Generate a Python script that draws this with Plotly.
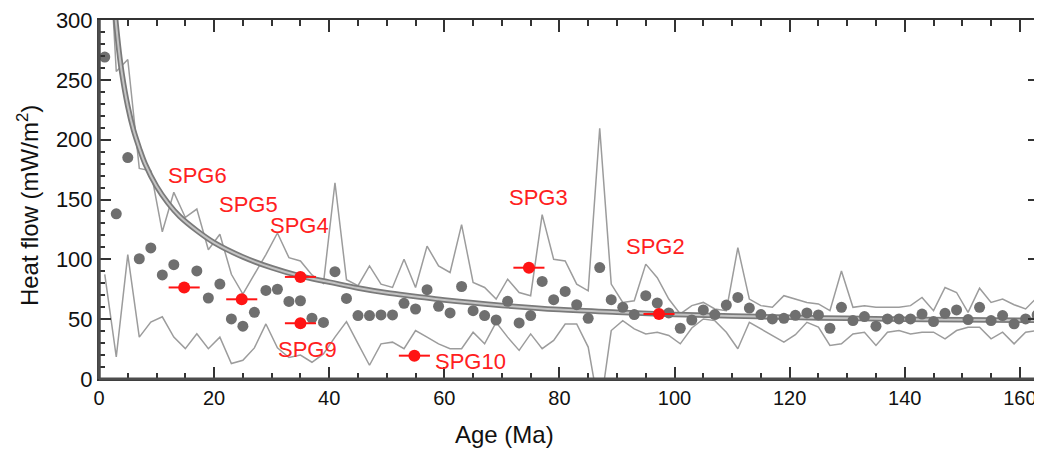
import plotly.graph_objects as go

# ---------------- data ----------------
bin_age = [1, 3, 5, 7, 9, 11, 13, 15, 17, 19,
           21, 23, 25, 27, 29, 31, 33, 35, 37, 39,
           41, 43, 45, 47, 49, 51, 53, 55, 57, 59,
           61, 63, 65, 67, 69, 71, 73, 75, 77, 79,
           81, 83, 85, 87, 89, 91, 93, 95, 97, 99,
           101, 103, 105, 107, 109, 111, 113, 115, 117, 119,
           121, 123, 125, 127, 129, 131, 133, 135, 137, 139,
           141, 143, 145, 147, 149, 151, 153, 155, 157, 159,
           161, 163]

mean_hf = [269, 138, 185, 100.5, 109.5, 87, 95.5, None, 90.3, 67.7,
           79.3, 50.2, 44.1, 55.7, 74, 75, 64.8, 65.4, 50.8, 47.3,
           89.7, 67.3, 53, 53, 53.5, 53.5, 63.2, 58.5, 74.6, 60.7,
           55.2, 77.3, 57.1, 53, 49.3, 64.9, 46.9, 53, 81.5, 66.3,
           73.2, 62.1, 50.7, 93.1, 66.3, 59.9, 53.8, 69.6, 63.5, 55.2,
           42.4, 49.3, 57.7, 53.8, 61.8, 68.2, 59.3, 53.8, 50.2, 50.7,
           53.2, 55.2, 53.5, 42.4, 59.9, 48.8, 52.2, 44.1, 50.2, 50.2,
           50.2, 54.3, 48, 54.9, 57.7, 49.7, 59.9, 48.8, 53, 46.1,
           50.2, 53.5]

upper_hf = [430, 257, 267, 176, 174, 123, 156, 135, 142, 108,
            121, 87.5, 71, 87, 104, 122, 101.4, 98.6, 87, 80,
            164, 83, 78, 94.5, 79.3, 76.5, 100, 76.5, 111, 94.5,
            89, 129, 80.7, 76.5, 66.8, 83.4, 72.3, 69.6, 137.4, 100,
            98.7, 79.3, 73.7, 209.5, 79.3, 64, 65.4, 96, 84.7, 66.8,
            54.4, 61.3, 64, 58.5, 57.1, 109.7, 66.8, 61.3, 59.9, 69.6,
            66.8, 64, 62.7, 57.1, 90.3, 59.9, 61.3, 59.9, 59.9, 59.9,
            61.3, 68.2, 57.1, 76.5, 72.3, 55.7, 75.9, 64, 66.8, 62.1,
            58.5, 68.2]

lower_hf = [87.5, 18.5, 104, 35, 47.5, 52, 35, 25.4, 37.8, 25.3,
            35, 12.9, 15.6, 26, 46, 26, 18, 20, 14, 21,
            35, 48, 29.5, 11.5, 29.4, 30.8, 25.3, 40.5, 35, 29.4,
            25.3, 25.3, 39.1, 29.4, 47.4, 35, 23.9, 37.7, 25.3, 32.2,
            46, 46, 26.7, -28, 40.5, 48.8, 41.9, 37.7, 39.1, 36.4,
            29.4, 42.6, 50.2, 48.8, 39.1, 25.3, 47.4, 41.9, 36.4, 30.8,
            37, 47.4, 43.3, 28.1, 29.4, 37.7, 39.1, 28.1, 39.1, 40.5,
            37.7, 39.1, 39.1, 33.6, 40.5, 43.3, 43.3, 33.6, 39.1, 29.4,
            39.1, 40.5]

model_age = [2.6, 2.8, 3.5, 4, 5, 6, 7, 8, 10, 12, 14, 17, 20, 25, 30, 35,
             40, 45, 50, 55, 60, 70, 80, 90, 100, 110, 120, 130, 140, 150, 164]
model_hf = [316, 305, 273, 255, 228, 208, 193, 180, 161, 147, 136, 124, 114,
            102, 93, 86, 81, 76, 72, 69, 66, 61.5, 58, 55.8, 54, 52.7, 51.5,
            50.7, 50, 49.5, 49]

spg_names = ["SPG6", "SPG5", "SPG4", "SPG9", "SPG10", "SPG3", "SPG2"]
spg_age = [14.8, 24.8, 35.0, 35.0, 54.8, 74.7, 97.3]
spg_hf = [76.5, 66.6, 85.3, 46.6, 19.5, 93.0, 54.3]
spg_age_err = [2.7, 2.7, 2.7, 2.7, 2.7, 2.7, 2.7]

label_age = [17.1, 26.0, 34.85, 36.15, 64.5, 76.4, 96.75]
label_hf = [170.2, 145.7, 128.3, 24.8, 14.5, 151.7, 111.0]

x_ticks = [0, 20, 40, 60, 80, 100, 120, 140, 160]
y_ticks = [0, 50, 100, 150, 200, 250, 300]

# ---------------- figure ----------------
# The page body has an 8 px margin, so the figure is sized/margined to compensate.
FONT = "Liberation Sans, Arial, Helvetica, sans-serif"
W, H = 1034, 446
ML, MT, MB, MR = 91, 9, 75, 0
PW, PH = W - ML - MR, H - MT - MB

fig = go.Figure()

for arr in (upper_hf, lower_hf):
    fig.add_trace(go.Scatter(x=bin_age, y=arr, mode="lines",
                             line=dict(color="#9c9c9c", width=1.5),
                             hoverinfo="skip", showlegend=False))

fig.add_trace(go.Scatter(x=model_age, y=model_hf, mode="lines",
                         line=dict(color="#7a7a7a", width=5.5, shape="spline"),
                         showlegend=False))
fig.add_trace(go.Scatter(x=model_age, y=model_hf, mode="lines",
                         line=dict(color="#c4c4c4", width=2, shape="spline"),
                         showlegend=False))

fig.add_trace(go.Scatter(x=bin_age, y=mean_hf, mode="markers",
                         marker=dict(color="#6f6f6f", size=11),
                         showlegend=False))

fig.add_trace(go.Scatter(x=spg_age, y=spg_hf, mode="markers",
                         marker=dict(color="#ff1414", size=12),
                         error_x=dict(type="data", array=spg_age_err, symmetric=True,
                                      color="#ff1414", thickness=2, width=0),
                         showlegend=False))

for name, xa, ya in zip(spg_names, label_age, label_hf):
    fig.add_annotation(x=xa, y=ya, text=name, showarrow=False,
                       xanchor="center", yanchor="middle",
                       font=dict(family=FONT, size=22, color="#ff2020"))

fig.add_annotation(xref="paper", yref="paper", x=(505 - 99) / PW, y=-(435 - 379) / PH,
                   text="Age (Ma)", showarrow=False, xanchor="center", yanchor="middle",
                   font=dict(family=FONT, size=24, color="#111"))
fig.add_annotation(xref="paper", yref="paper", x=-(99 - 28.5) / PW, y=(379 - 204) / PH,
                   text="Heat flow (mW/m<sup>2</sup>)", showarrow=False, textangle=-90,
                   xanchor="center", yanchor="middle",
                   font=dict(family=FONT, size=24, color="#111"))

# heavier left / bottom frame, as in the reference
fig.add_shape(type="line", xref="paper", yref="paper", x0=0, x1=0, y0=0, y1=1,
              line=dict(color="#4d4d4d", width=3.5), layer="above")
fig.add_shape(type="line", xref="paper", yref="paper", x0=0, x1=1, y0=0, y1=0,
              line=dict(color="#4d4d4d", width=3), layer="above")

axis_common = dict(showgrid=False, zeroline=False, showline=True, linecolor="#333",
                   linewidth=2, mirror="allticks", ticks="inside", ticklen=12,
                   tickwidth=2, tickcolor="#333", ticklabeloverflow="allow")

fig.update_xaxes(range=[0, 163.5], tickvals=x_ticks,
                 tickfont=dict(family=FONT, size=20, color="#111"),
                 minor=dict(dtick=5, ticks="inside", ticklen=6, tickwidth=1.5,
                            tickcolor="#333"),
                 **axis_common)
fig.update_yaxes(range=[0, 300], tickvals=y_ticks,
                 tickfont=dict(family=FONT, size=22, color="#111"),
                 minor=dict(dtick=10, ticks="inside", ticklen=6, tickwidth=1.5,
                            tickcolor="#333"),
                 **axis_common)

fig.update_layout(width=W, height=H, margin=dict(l=ML, r=MR, t=MT, b=MB),
                  plot_bgcolor="white", paper_bgcolor="white",
                  font=dict(family=FONT), showlegend=False)

fig.write_html("out.html")
